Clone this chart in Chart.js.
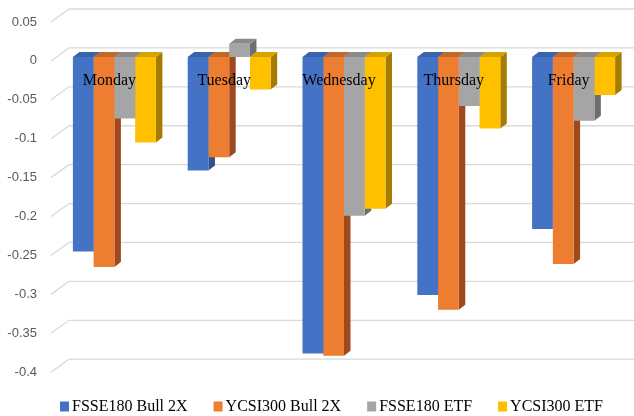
<!DOCTYPE html>
<html lang="en">
<head>
    <meta charset="UTF-8">
    <title>Weekday returns</title>
    <script src="https://cdn.jsdelivr.net/npm/chart.js"></script>
    <style>
        html, body { margin: 0; padding: 0; background: #fff; }
        #box { width: 634px; height: 416px; }
    </style>
</head>
<body>
    <div id="box"><canvas id="grafico"></canvas></div>

    <script>
        // dados
        const dias = ['Monday', 'Tuesday', 'Wednesday', 'Thursday', 'Friday'];
        const series = ['FSSE180 Bull 2X', 'YCSI300 Bull 2X', 'FSSE180 ETF', 'YCSI300 ETF'];
        const fsseBull = [-0.25, -0.146, -0.381, -0.306, -0.221];
        const ycsiBull = [-0.27, -0.129, -0.384, -0.325, -0.266];
        const fsseEtf = [-0.079, 0.017, -0.204, -0.063, -0.082];
        const ycsiEtf = [-0.110, -0.042, -0.195, -0.092, -0.049];
        const yMin = -0.4, yMax = 0.05, yStep = 0.05;

        // cores: frente, lado, topo
        const cores = [
            ['#4472C4', '#2F528F', '#3B62AC'],
            ['#ED7D31', '#9E4A1E', '#C4672A'],
            ['#A5A5A5', '#6E6E6E', '#8A8A8A'],
            ['#FFC000', '#A67C00', '#D6A200']
        ];
        const valores = [fsseBull, ycsiBull, fsseEtf, ycsiEtf];

        const DX = 6.5, DY = -5;

        const efeito3d = {
            id: 'efeito3d',
            beforeDatasetsDraw(chart) {
                const ctx = chart.ctx;
                const y = chart.scales.y;
                const area = chart.chartArea;

                // grade na parede do fundo
                ctx.save();
                ctx.strokeStyle = '#D9D9D9';
                ctx.lineWidth = 1.3;
                y.ticks.forEach(t => {
                    const f = y.getPixelForValue(t.value) + 4;
                    ctx.beginPath();
                    ctx.moveTo(area.left - 6, f);
                    ctx.lineTo(area.left + 12, f - 13);
                    ctx.lineTo(chart.width, f - 13);
                    ctx.stroke();
                });
                ctx.restore();

                // lados e topos das barras
                for (let i = 0; i < dias.length; i++) {
                    chart.data.datasets.forEach((ds, d) => {
                        const bar = chart.getDatasetMeta(d).data[i];
                        const xl = bar.x - bar.width / 2;
                        const xr = bar.x + bar.width / 2;
                        const top = Math.min(bar.y, bar.base);
                        const bottom = Math.max(bar.y, bar.base);

                        ctx.fillStyle = cores[d][1];
                        ctx.beginPath();
                        ctx.moveTo(xr, top);
                        ctx.lineTo(xr + DX, top + DY);
                        ctx.lineTo(xr + DX, bottom + DY);
                        ctx.lineTo(xr, bottom);
                        ctx.closePath();
                        ctx.fill();

                        ctx.fillStyle = cores[d][2];
                        ctx.beginPath();
                        ctx.moveTo(xl, top);
                        ctx.lineTo(xr, top);
                        ctx.lineTo(xr + DX, top + DY);
                        ctx.lineTo(xl + DX, top + DY);
                        ctx.closePath();
                        ctx.fill();
                    });
                }
            },
            afterDatasetsDraw(chart) {
                const ctx = chart.ctx;
                const x = chart.scales.x;
                const y0 = chart.scales.y.getPixelForValue(0);
                ctx.save();
                ctx.font = '16px "Liberation Serif"';
                ctx.fillStyle = '#000';
                ctx.textBaseline = 'middle';

                // nomes dos dias por cima das barras
                ctx.textAlign = 'center';
                chart.data.labels.forEach((lab, i) => {
                    ctx.fillText(lab, x.getPixelForValue(i) - 5, y0 + 24);
                });

                // legenda
                ctx.textAlign = 'left';
                let cx = 60;
                const ly = 406.5;
                chart.data.datasets.forEach((ds, d) => {
                    ctx.fillStyle = ds.backgroundColor;
                    ctx.fillRect(cx, ly - 5, 9, 10);
                    ctx.fillStyle = '#000';
                    ctx.fillText(ds.label, cx + 12, ly);
                    cx += 12 + ctx.measureText(ds.label).width + 26;
                });
                ctx.restore();
            }
        };

        const ctxBar = document.getElementById('grafico').getContext('2d');
        const grafico = new Chart(ctxBar, {
            type: 'bar',
            data: {
                labels: dias,
                datasets: series.map((nome, d) => ({
                    label: nome,
                    data: valores[d],
                    backgroundColor: cores[d][0],
                    borderWidth: 0,
                    categoryPercentage: 0.723,
                    barPercentage: 1.0
                }))
            },
            options: {
                responsive: true,
                maintainAspectRatio: false,
                animation: false,
                layout: {
                    padding: { left: 2, right: 3, top: 18, bottom: 0 }
                },
                plugins: {
                    legend: { display: false },
                    tooltip: { enabled: false }
                },
                scales: {
                    x: {
                        grid: { display: false },
                        border: { display: false },
                        ticks: { display: false },
                        afterFit(scale) {
                            scale.height = 47.8;
                            scale.paddingLeft = 0;
                            scale.paddingRight = 0;
                        }
                    },
                    y: {
                        min: yMin,
                        max: yMax,
                        grid: { display: false, drawTicks: false },
                        border: { display: false },
                        afterFit(scale) {
                            scale.width = 55;
                            scale.paddingTop = 0;
                            scale.paddingBottom = 0;
                        },
                        ticks: {
                            stepSize: yStep,
                            padding: 20,
                            labelOffset: 4,
                            color: '#595959',
                            font: { family: '"Liberation Sans"', size: 13 },
                            callback: v => {
                                const r = Math.round(v * 100) / 100;
                                return r === 0 ? '0' : String(r);
                            }
                        }
                    }
                }
            },
            plugins: [efeito3d]
        });
    </script>
</body>
</html>
